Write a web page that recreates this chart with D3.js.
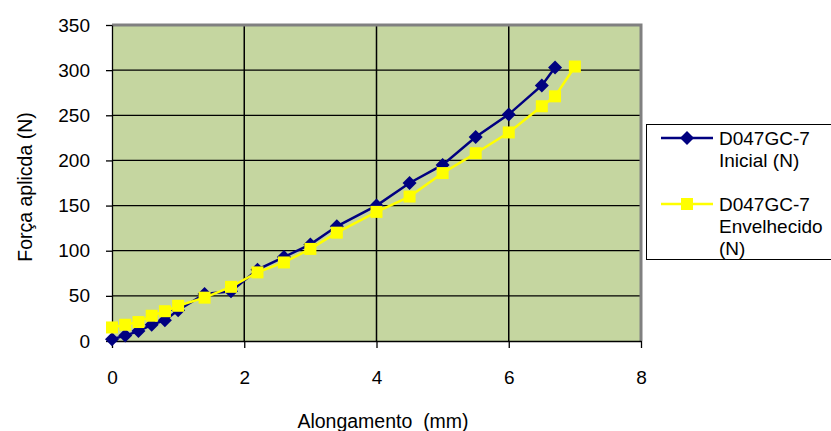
<!DOCTYPE html>
<html>
<head>
<meta charset="utf-8">
<script src="https://cdn.jsdelivr.net/npm/d3@7"></script>
<style>
  body { margin: 0; background: #fff; }
  text { font-family: "Liberation Sans", Arial, sans-serif; fill: #000; }
</style>
</head>
<body>
<div id="chart"></div>
<script>
const seriesNames = ["D047GC-7 Inicial (N)", "D047GC-7 Envelhecido (N)"];
const inicialX = [0, 0.2, 0.4, 0.6, 0.8, 1.0, 1.4, 1.8, 2.2, 2.6, 3.0, 3.4, 4.0, 4.5, 5.0, 5.5, 6.0, 6.5, 6.7];
const inicialY = [2, 6, 11, 18, 23, 34, 52, 55, 79, 93, 107, 127, 150, 175, 195, 226, 251, 283, 303];
const envelX = [0, 0.2, 0.4, 0.6, 0.8, 1.0, 1.4, 1.8, 2.2, 2.6, 3.0, 3.4, 4.0, 4.5, 5.0, 5.5, 6.0, 6.5, 6.7, 7.0];
const envelY = [15, 18, 21, 28, 33, 39, 48, 60, 76, 87, 102, 120, 143, 160, 186, 208, 231, 260, 271, 304];
const xTicks = [0, 2, 4, 6, 8];
const yTicks = [0, 50, 100, 150, 200, 250, 300, 350];

const width = 831, height = 431;
const plot = { left: 112, right: 641, top: 25, bottom: 341 };

const svg = d3.select("#chart")
    .append("svg")
    .attr("width", width)
    .attr("height", height);

const x = d3.scaleLinear().domain([0, 8]).range([plot.left, plot.right]);
const y = d3.scaleLinear().domain([0, 350]).range([plot.bottom, plot.top]);

// plot background
svg.append("rect")
    .attr("x", plot.left)
    .attr("y", plot.top)
    .attr("width", plot.right - plot.left)
    .attr("height", plot.bottom - plot.top)
    .attr("fill", "#c5d6a0");

// gridlines
svg.append("g")
    .selectAll("line")
    .data(yTicks.slice(1, -1))
    .enter()
    .append("line")
    .attr("x1", plot.left).attr("x2", plot.right)
    .attr("y1", d => y(d)).attr("y2", d => y(d))
    .attr("stroke", "#000").attr("stroke-width", 1.3);

svg.append("g")
    .selectAll("line")
    .data(xTicks.slice(1, -1))
    .enter()
    .append("line")
    .attr("y1", plot.top).attr("y2", plot.bottom)
    .attr("x1", d => x(d)).attr("x2", d => x(d))
    .attr("stroke", "#000").attr("stroke-width", 1.5);

// gray top / right border
svg.append("path")
    .attr("d", `M${plot.left},${plot.top}H${plot.right}V${plot.bottom}`)
    .attr("fill", "none")
    .attr("stroke", "#808080")
    .attr("stroke-width", 3);

// axes
const yAxis = svg.append("g")
    .attr("transform", `translate(${plot.left}, 0)`)
    .call(d3.axisLeft(y).tickValues(yTicks).tickSize(6).tickSizeOuter(0).tickPadding(16));

const xAxis = svg.append("g")
    .attr("transform", `translate(0, ${plot.bottom})`)
    .call(d3.axisBottom(x).tickValues(xTicks).tickSize(7).tickSizeOuter(0).tickPadding(23));

[yAxis, xAxis].forEach(g => {
    g.select(".domain").attr("stroke", "#000").attr("stroke-width", 1.3);
    g.selectAll(".tick line").attr("stroke", "#000").attr("stroke-width", 1.3);
    g.selectAll(".tick text")
        .style("font-family", "'Liberation Sans', Arial, sans-serif")
        .style("font-size", "19px")
        .attr("fill", "#000");
});

// axis titles
svg.append("text")
    .attr("x", 383)
    .attr("y", 428)
    .attr("text-anchor", "middle")
    .style("font-size", "19.5px")
    .style("white-space", "pre")
    .text("Alongamento  (mm)");

svg.append("text")
    .attr("transform", "translate(32, 187) rotate(-90)")
    .attr("text-anchor", "middle")
    .style("font-size", "19.5px")
    .text("Força aplicda (N)");

// series
const line = d3.line().x(d => x(d[0])).y(d => y(d[1]));
const inicial = inicialX.map((v, i) => [v, inicialY[i]]);
const envel = envelX.map((v, i) => [v, envelY[i]]);

const diamond = d3.symbol().type(d3.symbolDiamond2).size(125);
const square = d3.symbol().type(d3.symbolSquare).size(144);

svg.append("path")
    .datum(inicial)
    .attr("d", line)
    .attr("fill", "none")
    .attr("stroke", "#000080")
    .attr("stroke-width", 2.5);

svg.append("g")
    .selectAll("path")
    .data(inicial)
    .enter()
    .append("path")
    .attr("d", diamond)
    .attr("transform", d => `translate(${x(d[0])}, ${y(d[1])})`)
    .attr("fill", "#000080");

svg.append("path")
    .datum(envel)
    .attr("d", line)
    .attr("fill", "none")
    .attr("stroke", "#ffff00")
    .attr("stroke-width", 2.5);

svg.append("g")
    .selectAll("path")
    .data(envel)
    .enter()
    .append("path")
    .attr("d", square)
    .attr("transform", d => `translate(${x(d[0])}, ${y(d[1])})`)
    .attr("fill", "#ffff00");

// legend
const legend = svg.append("g");
legend.append("rect")
    .attr("x", 646.5).attr("y", 124.5)
    .attr("width", 190).attr("height", 135)
    .attr("fill", "#fff")
    .attr("stroke", "#000").attr("stroke-width", 1);

const legendItems = [
    { lines: ["D047GC-7", "Inicial (N)"], color: "#000080", sym: diamond, y: 138 },
    { lines: ["D047GC-7", "Envelhecido", "(N)"], color: "#ffff00", sym: square, y: 204 }
];

legendItems.forEach(item => {
    legend.append("line")
        .attr("x1", 661).attr("x2", 713)
        .attr("y1", item.y).attr("y2", item.y)
        .attr("stroke", item.color).attr("stroke-width", 2.5);
    legend.append("path")
        .attr("d", item.sym)
        .attr("transform", `translate(687, ${item.y})`)
        .attr("fill", item.color);
    item.lines.forEach((t, i) => {
        legend.append("text")
            .attr("x", 719)
            .attr("y", item.y + 7 + i * 22)
            .style("font-size", "19px")
            .text(t);
    });
});
</script>
</body>
</html>
